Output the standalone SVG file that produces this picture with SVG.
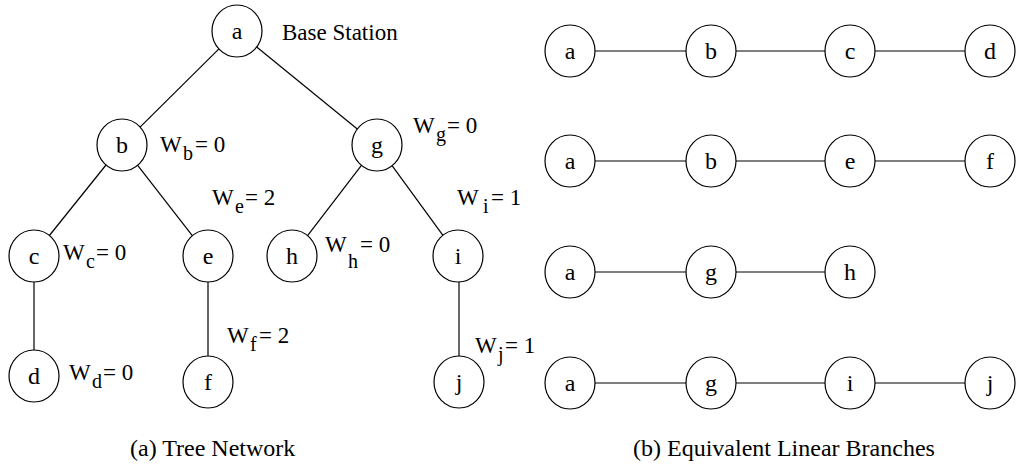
<svg xmlns="http://www.w3.org/2000/svg" width="1018" height="467" viewBox="0 0 1018 467">
<style>
.n{fill:#fff;stroke:#000;stroke-width:1.2}
.t{font-family:"Liberation Serif","Times New Roman",serif;font-size:24px;fill:#000}
.l{font-family:"Liberation Serif","Times New Roman",serif;font-size:23px;fill:#000}
.s{font-size:20px}
.c line{stroke:#000;stroke-width:1.2}
</style>
<rect width="1018" height="467" fill="#fff"/>
<g id="connectors" class="c">
<line x1="219.2" y1="48.6" x2="139.8" y2="127.4"/>
<line x1="256.4" y1="46.8" x2="357.6" y2="129.2"/>
<line x1="106.4" y1="164.5" x2="48.6" y2="236.5"/>
<line x1="137.3" y1="164.8" x2="192.7" y2="236.2"/>
<line x1="361.8" y1="164.9" x2="307.2" y2="236.1"/>
<line x1="391.7" y1="165.2" x2="443.3" y2="235.8"/>
<line x1="34" y1="282" x2="34" y2="350"/>
<line x1="208" y1="282" x2="208" y2="356"/>
<line x1="459" y1="282" x2="459" y2="356"/>
<line x1="595" y1="51" x2="686" y2="51"/>
<line x1="736" y1="51" x2="825" y2="51"/>
<line x1="875" y1="51" x2="965" y2="51"/>
<line x1="595" y1="161" x2="686" y2="161"/>
<line x1="736" y1="161" x2="825" y2="161"/>
<line x1="875" y1="161" x2="965" y2="161"/>
<line x1="595" y1="272" x2="686" y2="272"/>
<line x1="736" y1="272" x2="825" y2="272"/>
<line x1="595" y1="383" x2="686" y2="383"/>
<line x1="736" y1="383" x2="825" y2="383"/>
<line x1="875" y1="383" x2="965" y2="383"/>
</g>
<g id="tree-a"><ellipse class="n" cx="237" cy="31" rx="25" ry="26"/><text class="t" x="237" y="39" text-anchor="middle">a</text></g>
<g id="tree-b"><ellipse class="n" cx="122" cy="145" rx="25" ry="26"/><text class="t" x="122" y="153" text-anchor="middle">b</text></g>
<g id="tree-g"><ellipse class="n" cx="377" cy="145" rx="25" ry="26"/><text class="t" x="377" y="153" text-anchor="middle">g</text></g>
<g id="tree-c"><ellipse class="n" cx="34" cy="256" rx="25" ry="26"/><text class="t" x="34" y="264" text-anchor="middle">c</text></g>
<g id="tree-e"><ellipse class="n" cx="208" cy="256" rx="25" ry="26"/><text class="t" x="208" y="264" text-anchor="middle">e</text></g>
<g id="tree-h"><ellipse class="n" cx="292" cy="256" rx="25" ry="26"/><text class="t" x="292" y="264" text-anchor="middle">h</text></g>
<g id="tree-i"><ellipse class="n" cx="458" cy="256" rx="25" ry="26"/><text class="t" x="458" y="264" text-anchor="middle">i</text></g>
<g id="tree-d"><ellipse class="n" cx="34" cy="376" rx="25" ry="26"/><text class="t" x="34" y="384" text-anchor="middle">d</text></g>
<g id="tree-f"><ellipse class="n" cx="208" cy="382" rx="25" ry="26"/><text class="t" x="208" y="390" text-anchor="middle">f</text></g>
<g id="tree-j"><ellipse class="n" cx="459" cy="382" rx="25" ry="26"/><text class="t" x="459" y="390" text-anchor="middle">j</text></g>
<g id="labels">
<text class="l" x="282" y="40">Base Station</text>
<text class="l" x="160" y="152">W<tspan class="s" x="183" y="160">b</tspan><tspan x="195" y="152">= 0</tspan></text>
<text class="l" x="413" y="133">W<tspan class="s" x="436" y="141">g</tspan><tspan x="447" y="133">= 0</tspan></text>
<text class="l" x="212" y="205">W<tspan class="s" x="235" y="213">e</tspan><tspan x="245" y="205">= 2</tspan></text>
<text class="l" x="457" y="205">W<tspan class="s" x="483" y="213">i</tspan><tspan x="491" y="205">= 1</tspan></text>
<text class="l" x="63" y="260">W<tspan class="s" x="86" y="268">c</tspan><tspan x="96" y="260">= 0</tspan></text>
<text class="l" x="325" y="252">W<tspan class="s" x="348" y="268">h</tspan><tspan x="360" y="252">= 0</tspan></text>
<text class="l" x="69" y="380">W<tspan class="s" x="92" y="388">d</tspan><tspan x="103" y="380">= 0</tspan></text>
<text class="l" x="227" y="343">W<tspan class="s" x="250" y="351">f</tspan><tspan x="259" y="343">= 2</tspan></text>
<text class="l" x="475" y="353">W<tspan class="s" x="498" y="361">j</tspan><tspan x="505" y="353">= 1</tspan></text>
<text class="t" x="130" y="456">(a) Tree Network</text>
<text class="t" x="633" y="456">(b) Equivalent Linear Branches</text>
</g>
<g id="r1-a"><ellipse class="n" cx="570" cy="51" rx="25" ry="26"/><text class="t" x="570" y="59" text-anchor="middle">a</text></g>
<g id="r1-b"><ellipse class="n" cx="711" cy="51" rx="25" ry="26"/><text class="t" x="711" y="59" text-anchor="middle">b</text></g>
<g id="r1-c"><ellipse class="n" cx="850" cy="51" rx="25" ry="26"/><text class="t" x="850" y="59" text-anchor="middle">c</text></g>
<g id="r1-d"><ellipse class="n" cx="990" cy="51" rx="25" ry="26"/><text class="t" x="990" y="59" text-anchor="middle">d</text></g>
<g id="r2-a"><ellipse class="n" cx="570" cy="161" rx="25" ry="26"/><text class="t" x="570" y="169" text-anchor="middle">a</text></g>
<g id="r2-b"><ellipse class="n" cx="711" cy="161" rx="25" ry="26"/><text class="t" x="711" y="169" text-anchor="middle">b</text></g>
<g id="r2-e"><ellipse class="n" cx="850" cy="161" rx="25" ry="26"/><text class="t" x="850" y="169" text-anchor="middle">e</text></g>
<g id="r2-f"><ellipse class="n" cx="990" cy="161" rx="25" ry="26"/><text class="t" x="990" y="169" text-anchor="middle">f</text></g>
<g id="r3-a"><ellipse class="n" cx="570" cy="272" rx="25" ry="26"/><text class="t" x="570" y="280" text-anchor="middle">a</text></g>
<g id="r3-g"><ellipse class="n" cx="711" cy="272" rx="25" ry="26"/><text class="t" x="711" y="280" text-anchor="middle">g</text></g>
<g id="r3-h"><ellipse class="n" cx="850" cy="272" rx="25" ry="26"/><text class="t" x="850" y="280" text-anchor="middle">h</text></g>
<g id="r4-a"><ellipse class="n" cx="570" cy="383" rx="25" ry="26"/><text class="t" x="570" y="391" text-anchor="middle">a</text></g>
<g id="r4-g"><ellipse class="n" cx="711" cy="383" rx="25" ry="26"/><text class="t" x="711" y="391" text-anchor="middle">g</text></g>
<g id="r4-i"><ellipse class="n" cx="850" cy="383" rx="25" ry="26"/><text class="t" x="850" y="391" text-anchor="middle">i</text></g>
<g id="r4-j"><ellipse class="n" cx="990" cy="383" rx="25" ry="26"/><text class="t" x="990" y="391" text-anchor="middle">j</text></g>
</svg>
